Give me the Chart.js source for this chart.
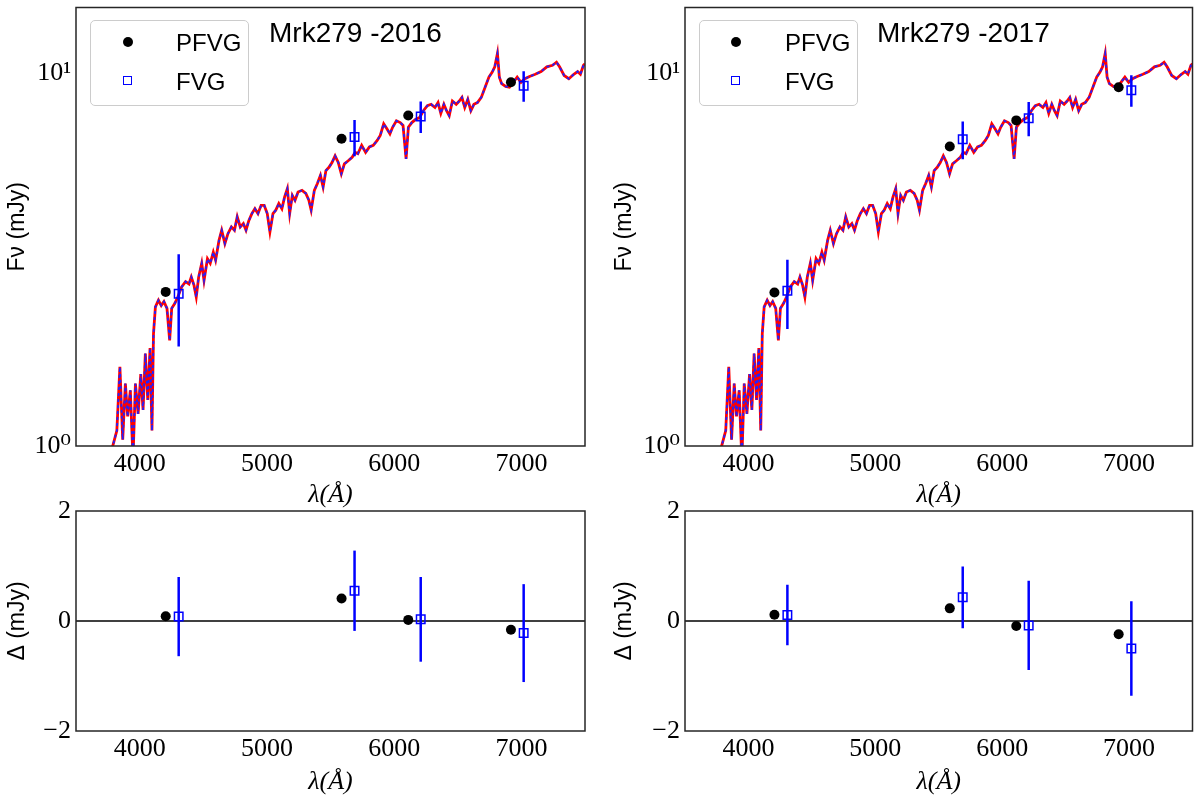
<!DOCTYPE html>
<html>
<head>
<meta charset="utf-8">
<script src="https://cdn.jsdelivr.net/npm/chart.js@4/dist/chart.umd.min.js"></script>
<style>
  html, body { margin:0; padding:0; background:#fff; }
  body { width:1200px; height:802px; position:relative; overflow:hidden; font-family:'Liberation Sans', Arial, sans-serif; }
  canvas { position:absolute; }
  .ov { position:absolute; z-index:5; white-space:nowrap; line-height:1; color:#000; }
  .legend { position:absolute; z-index:4; border:1px solid #cccccc; border-radius:5px; background:rgba(255,255,255,0.85); box-sizing:border-box; }
  .dot { position:absolute; z-index:5; width:10px; height:10px; border-radius:50%; background:#000; }
  .sq { position:absolute; z-index:5; width:9px; height:9px; border:1.5px solid #0000ff; box-sizing:border-box; }
  .ttl { font-size:28px; }
  .ltxt { font-size:24px; }
</style>
</head>
<body>
<canvas id="tl" width="600" height="520" style="left:0;top:0"></canvas>
<canvas id="tr" width="600" height="520" style="left:600px;top:0"></canvas>
<canvas id="bl" width="600" height="312" style="left:0;top:490px"></canvas>
<canvas id="br" width="600" height="312" style="left:600px;top:490px"></canvas>

<div class="legend" style="left:90px;top:20px;width:159px;height:86px"></div>
<div class="dot" style="left:123px;top:37px"></div>
<div class="sq" style="left:123px;top:76px"></div>
<div class="ov ltxt" style="left:176px;top:31px">PFVG</div>
<div class="ov ltxt" style="left:176px;top:70px">FVG</div>
<div class="ov ttl" style="left:269px;top:19px">Mrk279 -2016</div>

<div class="legend" style="left:699px;top:20px;width:159px;height:86px"></div>
<div class="dot" style="left:731px;top:37px"></div>
<div class="sq" style="left:731px;top:76px"></div>
<div class="ov ltxt" style="left:785px;top:31px">PFVG</div>
<div class="ov ltxt" style="left:785px;top:70px">FVG</div>
<div class="ov ttl" style="left:877px;top:19px">Mrk279 -2017</div>

<script>
// ---------------- data ----------------
const xTicks = [4000, 5000, 6000, 7000];
const logTicks = [1, 10];
const logTickLabels = ['10\u2070', '10\u00B9'];
const resTicks = [-2, 0, 2];

// host + AGN model spectrum (mJy)
const specWave = [3782,3821,3845,3867,3888,3906,3927,3948,3967,3988,
  4009,4027,4045,4064,4082,4097,4109,4124,4148,4170,
  4191,4215,4236,4252,4276,4300,4330,4361,4388,4406,
  4427,4445,4464,4488,4506,4533,4555,4579,4597,4624,
  4645,4670,4694,4721,4745,4767,4791,4815,4836,4858,
  4882,4906,4930,4955,4979,5003,5024,5048,5070,5094,
  5118,5139,5161,5179,5200,5221,5245,5276,5306,5330,
  5348,5373,5397,5421,5442,5464,5488,5512,5536,5561,
  5585,5609,5639,5670,5694,5715,5745,5776,5806,5836,
  5867,5891,5918,5942,5967,5988,6018,6048,6070,6094,
  6112,6139,6170,6200,6230,6261,6291,6321,6345,6367,
  6391,6412,6433,6458,6488,6512,6533,6555,6579,6603,
  6627,6655,6685,6715,6745,6770,6791,6812,6827,6845,
  6876,6906,6936,6967,6997,7027,7064,7109,7155,7200,
  7245,7276,7300,7336,7373,7412,7442,7464,7488,7500];
const specFlux = [0.98,1.10,1.63,1.04,1.47,1.20,1.41,0.92,1.47,1.22,
  1.56,1.25,1.77,1.33,1.83,1.10,2.00,2.36,2.46,2.38,
  2.44,2.34,1.92,2.34,2.41,2.51,2.67,2.76,2.72,2.84,
  2.70,2.51,2.84,3.09,2.78,3.18,3.09,3.31,3.15,3.56,
  3.79,3.49,3.71,3.87,3.79,4.12,3.87,3.95,3.79,4.02,
  4.20,4.33,4.20,4.42,4.42,4.20,3.75,4.20,4.29,4.47,
  4.33,4.65,4.90,4.20,4.70,4.56,4.80,4.85,4.76,4.56,
  4.29,4.85,5.06,5.32,4.95,5.48,5.59,5.76,6.00,5.76,
  5.37,5.71,5.82,5.95,6.13,6.08,6.40,6.13,6.34,6.40,
  6.60,6.81,7.31,7.10,6.87,7.16,7.45,7.37,7.24,5.89,
  7.16,7.37,7.52,7.60,7.93,8.18,8.25,8.09,8.34,7.80,
  8.25,7.93,7.69,8.42,8.25,8.42,8.61,8.09,8.51,7.93,
  8.25,8.34,8.61,9.17,9.76,10.05,10.4,11.3,9.76,9.37,
  9.21,9.17,9.45,9.76,9.45,9.66,9.80,9.93,10.1,10.4,
  10.5,10.7,10.4,9.86,9.66,9.93,10.1,9.93,10.5,10.6];

// photometric points
const pfvgWave = [4205, 5587, 6111, 6918];
const fvgWave  = [4307, 5689, 6209, 7018];

const pfvgFlux2016 = [2.59, 6.67, 7.70, 9.45];
const fvgFlux2016  = [2.56, 6.74, 7.65, 9.25];
const fvgErr2016   = [0.71, 0.75, 0.74, 0.87];
const pfvgRes2016  = [0.085, 0.41, 0.02, -0.16];
const fvgRes2016   = [0.08, 0.55, 0.03, -0.22];
const fvgResErr2016 = [0.72, 0.73, 0.77, 0.89];

const pfvgFlux2017 = [2.58, 6.36, 7.47, 9.17];
const fvgFlux2017  = [2.61, 6.65, 7.57, 9.00];
const fvgErr2017   = [0.55, 0.77, 0.80, 0.87];
const pfvgRes2017  = [0.115, 0.23, -0.09, -0.24];
const fvgRes2017   = [0.11, 0.43, -0.08, -0.50];
const fvgResErr2017 = [0.55, 0.56, 0.81, 0.86];

const xMin = 3500, xMax = 7500;

// ---------------- helpers ----------------
const BLUE = '#0000ff';
const serif = "'Liberation Serif','DejaVu Serif',serif";
const sans = "'Liberation Sans','DejaVu Sans',sans-serif";

const framePlugin = {
  id: 'frame',
  afterDatasetsDraw(chart) {
    const {ctx, chartArea: {left, top, right, bottom}} = chart;
    ctx.save();
    ctx.strokeStyle = '#262626';
    ctx.lineWidth = 1.5;
    ctx.strokeRect(left, top, right - left, bottom - top);
    ctx.restore();
  }
};

function pointSets(pW, pY, fW, fY, fE) {
  const ds = [];
  ds.push({ data: pW.map((w, i) => ({x: w, y: pY[i]})), pointStyle: 'circle', pointRadius: 5,
            backgroundColor: '#000', borderColor: '#000', borderWidth: 0, order: 0 });
  ds.push({ data: fW.map((w, i) => ({x: w, y: fY[i]})), pointStyle: 'rect', pointRadius: 6,
            backgroundColor: 'rgba(0,0,0,0)', borderColor: BLUE, borderWidth: 1.5, order: 1 });
  fW.forEach((w, i) => {
    ds.push({ data: [{x: w, y: fY[i] - fE[i]}, {x: w, y: fY[i] + fE[i]}], showLine: true,
              borderColor: BLUE, borderWidth: 2.5, pointRadius: 0, order: 2 });
  });
  return ds;
}

function topSets(pY, fY, fE) {
  const ds = pointSets(pfvgWave, pY, fvgWave, fY, fE);
  const spec = specWave.map((w, i) => ({x: w, y: specFlux[i]}));
  ds.push({ data: spec, showLine: true, borderColor: '#2020ff', borderWidth: 1.8, borderDash: [3, 3],
            pointRadius: 0, order: 3, clip: 0 });
  ds.push({ data: spec, showLine: true, borderColor: '#ff0000', borderWidth: 2.8,
            pointRadius: 0, order: 4, clip: 0 });
  return ds;
}

function resSets(pY, fY, fE) {
  const ds = pointSets(pfvgWave, pY, fvgWave, fY, fE);
  ds.push({ data: [{x: xMin, y: 0}, {x: xMax, y: 0}], showLine: true, borderColor: '#000',
            borderWidth: 1.5, pointRadius: 0, order: 5 });
  return ds;
}

function build(id, o) {
  const yScale = o.log ? {
    type: 'logarithmic', min: 1, max: 15,
    afterBuildTicks: s => { s.ticks = logTicks.map(v => ({value: v})); },
    ticks: { font: {family: serif, size: 26}, color: '#000', padding: 5,
             callback: v => logTickLabels[logTicks.indexOf(v)] ?? '' },
    title: { display: true, text: 'F\u03BD (mJy)', font: {family: sans, size: 23}, color: '#000',
             padding: {top: o.yTitlePad, bottom: 0} }
  } : {
    type: 'linear', min: -2, max: 2,
    afterBuildTicks: s => { s.ticks = resTicks.map(v => ({value: v})); },
    ticks: { font: {family: serif, size: 26}, color: '#000', padding: 5,
             callback: v => v < 0 ? '\u2212' + Math.abs(v) : String(v) },
    title: { display: true, text: '\u0394 (mJy)', font: {family: sans, size: 23}, color: '#000',
             padding: {top: o.yTitlePad, bottom: 0} }
  };
  yScale.grid = { display: false, drawTicks: false };
  yScale.border = { display: false };
  yScale.afterFit = s => { s.width = o.yWidth; s.paddingTop = 0; s.paddingBottom = 0; };

  return new Chart(document.getElementById(id), {
    type: 'scatter',
    data: { datasets: o.datasets },
    options: {
      responsive: false, animation: false, devicePixelRatio: 1,
      layout: { padding: { top: o.padTop, right: o.padRight, left: 0, bottom: 0 } },
      plugins: { legend: { display: false }, tooltip: { enabled: false } },
      scales: {
        x: {
          type: 'linear', min: xMin, max: xMax,
          grid: { display: false, drawTicks: false }, border: { display: false },
          afterBuildTicks: s => { s.ticks = xTicks.map(v => ({value: v})); },
          ticks: { font: {family: serif, size: 26}, color: '#000', padding: 3, maxRotation: 0,
                   callback: v => String(v) },
          title: { display: true, text: '\u03BB(\u00C5)', font: {family: serif, style: 'italic', size: 26},
                   color: '#000', padding: {top: 0, bottom: o.xTitlePad} },
          afterFit: s => { s.height = o.xHeight; s.paddingLeft = 0; s.paddingRight = 0; }
        },
        y: yScale
      }
    },
    plugins: [framePlugin]
  });
}

build('tl', { log: true, datasets: topSets(pfvgFlux2016, fvgFlux2016, fvgErr2016),
  yWidth: 76, padRight: 15, padTop: 7, xHeight: 74, xTitlePad: 9, yTitlePad: 4 });
build('tr', { log: true, datasets: topSets(pfvgFlux2017, fvgFlux2017, fvgErr2017),
  yWidth: 85, padRight: 7, padTop: 7, xHeight: 74, xTitlePad: 9, yTitlePad: 11 });
build('bl', { log: false, datasets: resSets(pfvgRes2016, fvgRes2016, fvgResErr2016),
  yWidth: 76, padRight: 15, padTop: 21, xHeight: 71, xTitlePad: 4, yTitlePad: 4 });
build('br', { log: false, datasets: resSets(pfvgRes2017, fvgRes2017, fvgResErr2017),
  yWidth: 85, padRight: 7, padTop: 21, xHeight: 71, xTitlePad: 4, yTitlePad: 11 });
</script>
</body>
</html>
